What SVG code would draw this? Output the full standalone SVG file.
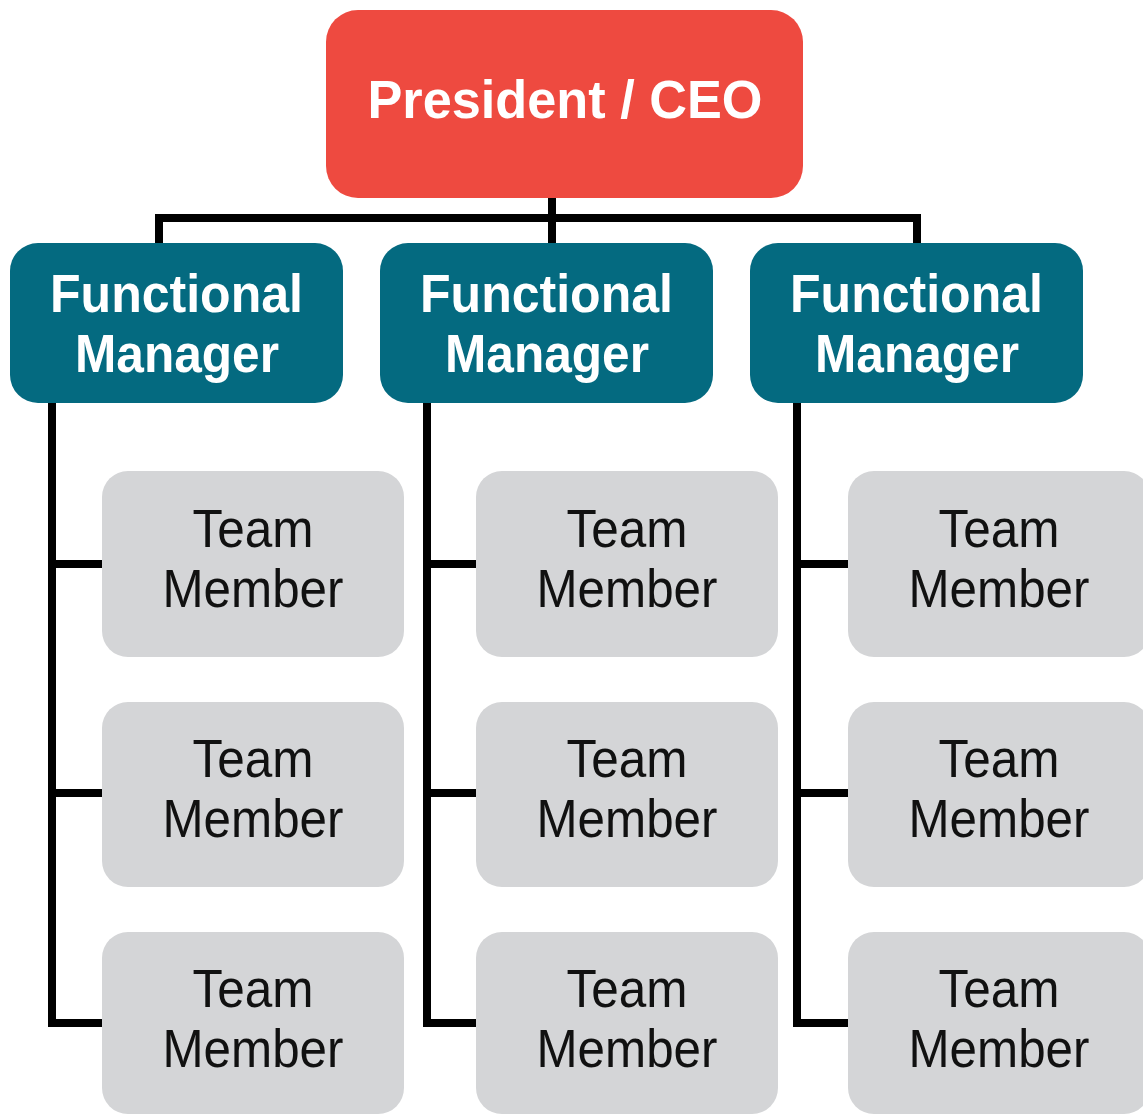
<svg xmlns="http://www.w3.org/2000/svg" width="1143" height="1114" viewBox="0 0 1143 1114">
<style>
.ceo{fill:#EE4A40}
.mgr{fill:#046A80}
.tm{fill:#D4D5D7}
.wt{font-family:"Liberation Sans",Arial,sans-serif;font-weight:bold;font-size:53px;fill:#FFFFFF;text-anchor:middle}
.bt{font-family:"Liberation Sans",Arial,sans-serif;font-size:53px;fill:#111111;text-anchor:middle}
.ln{fill:none;stroke:#000000;stroke-width:8;stroke-linejoin:miter;stroke-linecap:square}
</style>
<rect width="1143" height="1114" fill="#FFFFFF"/>
<g id="connectors">
<path class="ln" d="M552 198 V243"/>
<path class="ln" d="M159 243 V218 H917 V243"/>
<path class="ln" d="M52 403 V1023 H102 M52 564 H102 M52 793 H102"/>
<path class="ln" d="M427 403 V1023 H476 M427 564 H476 M427 793 H476"/>
<path class="ln" d="M797 403 V1023 H848 M797 564 H848 M797 793 H848"/>
</g>
<g id="ceo">
<rect class="ceo" x="326" y="10" width="477" height="188" rx="32"/>
<text class="wt" x="565" y="118" textLength="395" lengthAdjust="spacingAndGlyphs">President / CEO</text>
</g>
<g id="mgr1">
<rect class="mgr" x="10" y="243" width="333" height="160" rx="28"/>
<text class="wt" x="176.5" y="312" textLength="253" lengthAdjust="spacingAndGlyphs">Functional</text>
<text class="wt" x="177" y="372" textLength="204" lengthAdjust="spacingAndGlyphs">Manager</text>
</g>
<g id="mgr2">
<rect class="mgr" x="380" y="243" width="333" height="160" rx="28"/>
<text class="wt" x="546.5" y="312" textLength="253" lengthAdjust="spacingAndGlyphs">Functional</text>
<text class="wt" x="547" y="372" textLength="204" lengthAdjust="spacingAndGlyphs">Manager</text>
</g>
<g id="mgr3">
<rect class="mgr" x="750" y="243" width="333" height="160" rx="28"/>
<text class="wt" x="916.5" y="312" textLength="253" lengthAdjust="spacingAndGlyphs">Functional</text>
<text class="wt" x="917" y="372" textLength="204" lengthAdjust="spacingAndGlyphs">Manager</text>
</g>
<g id="tm1a"><rect class="tm" x="102" y="471" width="302" height="186" rx="26"/><text class="bt" x="253" y="547" textLength="121" lengthAdjust="spacingAndGlyphs">Team</text><text class="bt" x="253" y="607" textLength="181" lengthAdjust="spacingAndGlyphs">Member</text></g>
<g id="tm1b"><rect class="tm" x="102" y="702" width="302" height="185" rx="26"/><text class="bt" x="253" y="777" textLength="121" lengthAdjust="spacingAndGlyphs">Team</text><text class="bt" x="253" y="837" textLength="181" lengthAdjust="spacingAndGlyphs">Member</text></g>
<g id="tm1c"><rect class="tm" x="102" y="932" width="302" height="182" rx="26"/><text class="bt" x="253" y="1007" textLength="121" lengthAdjust="spacingAndGlyphs">Team</text><text class="bt" x="253" y="1067" textLength="181" lengthAdjust="spacingAndGlyphs">Member</text></g>
<g id="tm2a"><rect class="tm" x="476" y="471" width="302" height="186" rx="26"/><text class="bt" x="627" y="547" textLength="121" lengthAdjust="spacingAndGlyphs">Team</text><text class="bt" x="627" y="607" textLength="181" lengthAdjust="spacingAndGlyphs">Member</text></g>
<g id="tm2b"><rect class="tm" x="476" y="702" width="302" height="185" rx="26"/><text class="bt" x="627" y="777" textLength="121" lengthAdjust="spacingAndGlyphs">Team</text><text class="bt" x="627" y="837" textLength="181" lengthAdjust="spacingAndGlyphs">Member</text></g>
<g id="tm2c"><rect class="tm" x="476" y="932" width="302" height="182" rx="26"/><text class="bt" x="627" y="1007" textLength="121" lengthAdjust="spacingAndGlyphs">Team</text><text class="bt" x="627" y="1067" textLength="181" lengthAdjust="spacingAndGlyphs">Member</text></g>
<g id="tm3a"><rect class="tm" x="848" y="471" width="302" height="186" rx="26"/><text class="bt" x="999" y="547" textLength="121" lengthAdjust="spacingAndGlyphs">Team</text><text class="bt" x="999" y="607" textLength="181" lengthAdjust="spacingAndGlyphs">Member</text></g>
<g id="tm3b"><rect class="tm" x="848" y="702" width="302" height="185" rx="26"/><text class="bt" x="999" y="777" textLength="121" lengthAdjust="spacingAndGlyphs">Team</text><text class="bt" x="999" y="837" textLength="181" lengthAdjust="spacingAndGlyphs">Member</text></g>
<g id="tm3c"><rect class="tm" x="848" y="932" width="302" height="182" rx="26"/><text class="bt" x="999" y="1007" textLength="121" lengthAdjust="spacingAndGlyphs">Team</text><text class="bt" x="999" y="1067" textLength="181" lengthAdjust="spacingAndGlyphs">Member</text></g>
</svg>
